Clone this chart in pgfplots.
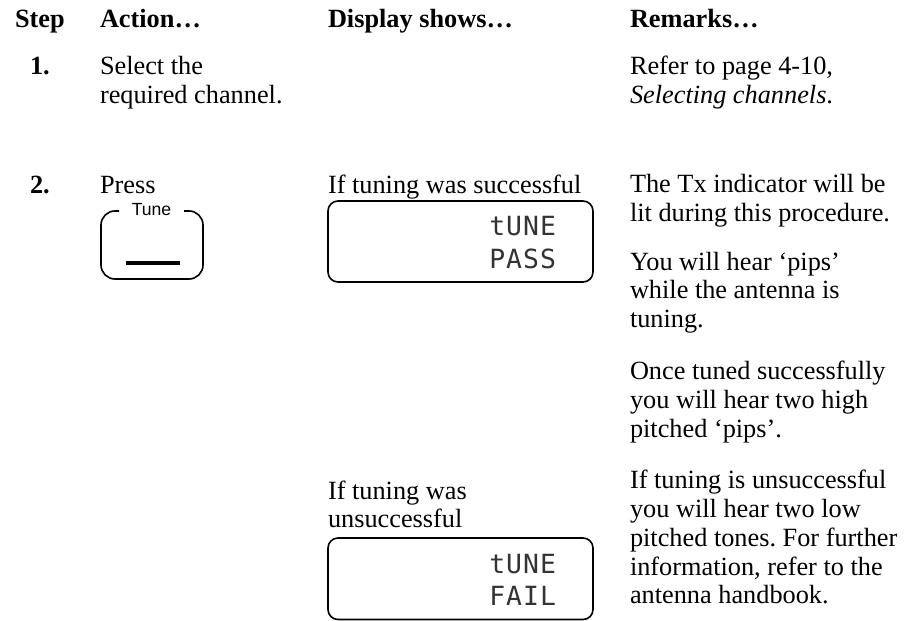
\documentclass[border=0pt]{standalone}
\usepackage{fontspec}
\setmainfont{Liberation Serif}
\newfontfamily\btnfont{Liberation Sans}
\newfontfamily\lcd[LetterSpace=4]{DejaVu Sans Mono}
\usepackage{pgfplots}
\pgfplotsset{compat=1.18}
\frenchspacing
\begin{document}
\begin{tikzpicture}[every node/.style={inner sep=0pt, outer sep=0pt}]
\begin{axis}[
  width=452.5pt, height=310.5pt, scale only axis,
  xmin=0, xmax=905, ymin=0, ymax=621, y dir=reverse,
  hide axis, clip=false,
]
\addplot[draw=none, fill=white] coordinates {(0,0) (905,0) (905,621) (0,621)} -- cycle;
\def\tf{\fontsize{13.15}{14.3}\selectfont\frenchspacing}
\tikzset{t/.style={anchor=base west, inner sep=0pt, font=\tf}, b/.style={anchor=base west, inner sep=0pt, font=\tf\bfseries}}
% headers
\node[b] at (axis cs:15,27) {Step};
\node[b] at (axis cs:100,27) {Action…};
\node[b] at (axis cs:328,27) {Display shows…};
\node[b] at (axis cs:630,27) {Remarks…};
% step 1
\node[b] at (axis cs:30,74) {1.};
\node[t] at (axis cs:100,74) {Select the};
\node[t] at (axis cs:100,103) {required channel.};
\node[t] at (axis cs:630,74) {Refer to page 4-10,};
\node[t] at (axis cs:630,103) {\textit{Selecting channels}.};
% step 2
\node[b] at (axis cs:30,193) {2.};
\node[t] at (axis cs:100,193) {Press};
\node[t] at (axis cs:328,193) {If tuning was successful};
\node[t] at (axis cs:328,499) {If tuning was};
\node[t] at (axis cs:328,527) {unsuccessful};
% remarks
\node[t] at (axis cs:630,192) {The Tx indicator will be};
\node[t] at (axis cs:630,221) {lit during this procedure.};
\node[t] at (axis cs:630,270) {You will hear ‘pips’};
\node[t] at (axis cs:630,298) {while the antenna is};
\node[t] at (axis cs:630,327) {tuning.};
\node[t] at (axis cs:630,379) {Once tuned successfully};
\node[t] at (axis cs:630,408) {you will hear two high};
\node[t] at (axis cs:630,437) {pitched ‘pips’.};
\node[t] at (axis cs:630,488) {If tuning is unsuccessful};
\node[t] at (axis cs:630,517) {you will hear two low};
\node[t] at (axis cs:630,546) {pitched tones. For further};
\node[t] at (axis cs:630,575) {information, refer to the};
\node[t] at (axis cs:630,603) {antenna handbook.};
% Tune button
\draw[line width=0.8pt, rounded corners=7pt] (axis cs:119,211) -- (axis cs:101,211) -- (axis cs:101,279) -- (axis cs:203,279) -- (axis cs:203,211) -- (axis cs:184,211);
\node[anchor=base, inner sep=0pt, font=\btnfont\fontsize{8.8}{10}\selectfont] at (axis cs:151.5,215) {Tune};
\draw[line width=1.6pt] (axis cs:126,263) -- (axis cs:180,263);
% displays
\draw[line width=0.8pt, rounded corners=5pt] (axis cs:328,201) rectangle (axis cs:593,282);
\draw[line width=0.8pt, rounded corners=5pt] (axis cs:328,538) rectangle (axis cs:593,619.5);
\tikzset{l/.style={anchor=base east, inner sep=0pt, text=black!80, font=\lcd\fontsize{13.2}{14}\selectfont}}
\node[l] at (axis cs:556,235) {tUNE};
\node[l] at (axis cs:556,268) {PASS};
\node[l] at (axis cs:556,573) {tUNE};
\node[l] at (axis cs:556,605) {FAIL};
\end{axis}
\end{tikzpicture}
\end{document}
